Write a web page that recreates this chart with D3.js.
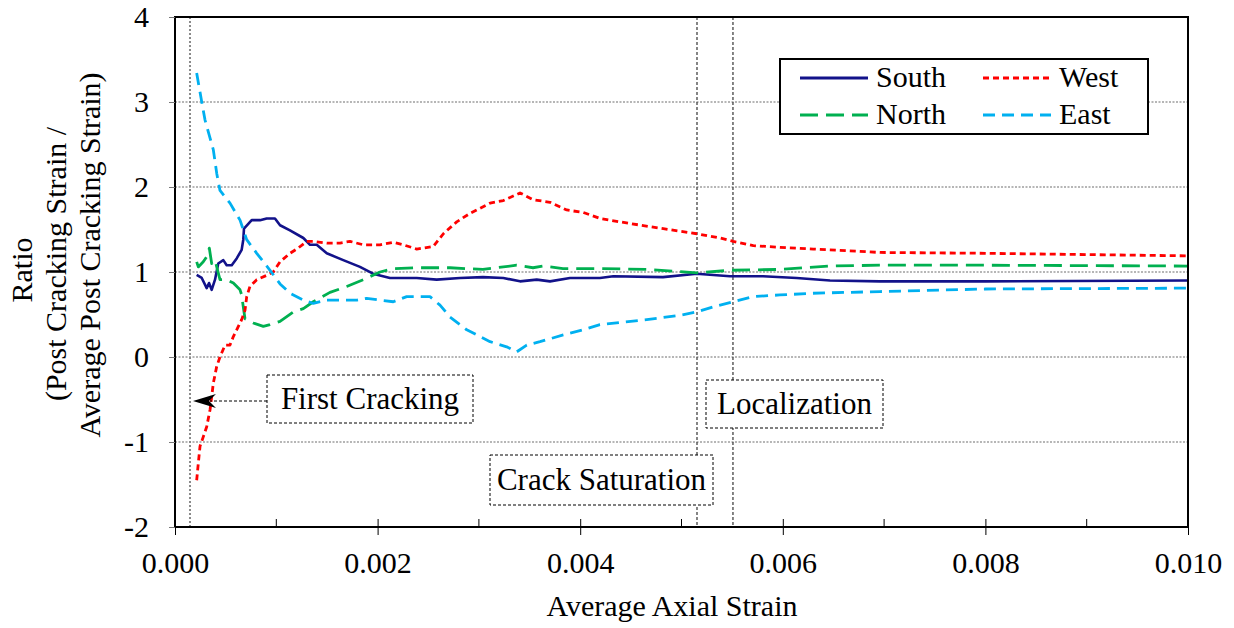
<!DOCTYPE html>
<html>
<head>
<meta charset="utf-8">
<script src="https://cdn.jsdelivr.net/npm/d3@7"></script>
<style>
  body { margin: 0; background: #fff; }
  svg { display: block; }
  text { font-family: "Liberation Serif", "Times New Roman", serif; fill: #000; }
</style>
</head>
<body>
<svg id="chart" width="1234" height="628"></svg>
<script>
// Ratio of each gauge's post-cracking strain to the average post-cracking strain,
// plotted against average axial strain: [strain, ratio]
const southData = [
  [0.000214, 0.965], [0.000264, 0.93], [0.000313, 0.81], [0.000336, 0.87], [0.000362, 0.79],
  [0.000395, 0.91], [0.000427, 1.10], [0.000477, 1.14], [0.000510, 1.08], [0.000560, 1.08],
  [0.000609, 1.16], [0.000658, 1.26], [0.000674, 1.38], [0.000681, 1.51], [0.000757, 1.61],
  [0.000839, 1.61], [0.000905, 1.63], [0.000987, 1.63], [0.001037, 1.55], [0.001135, 1.49],
  [0.001267, 1.40], [0.001333, 1.32], [0.001399, 1.32], [0.001498, 1.22], [0.001661, 1.14],
  [0.001826, 1.06], [0.001955, 0.98], [0.002122, 0.93], [0.002386, 0.93], [0.002583, 0.91],
  [0.002813, 0.93], [0.003040, 0.94], [0.003241, 0.93], [0.003406, 0.89], [0.003571, 0.91],
  [0.003702, 0.89], [0.003899, 0.93], [0.004195, 0.93], [0.004327, 0.95], [0.004817, 0.94],
  [0.005150, 0.98], [0.005479, 0.95], [0.005805, 0.95], [0.006137, 0.93], [0.006466, 0.90],
  [0.006959, 0.89], [0.008000, 0.89], [0.010000, 0.90]
];
const northData = [
  [0.000214, 1.12], [0.000230, 1.06], [0.000279, 1.12], [0.000313, 1.18], [0.000339, 1.28],
  [0.000362, 1.10], [0.000395, 1.14], [0.000412, 1.06], [0.000444, 0.91], [0.000510, 0.91],
  [0.000576, 0.87], [0.000642, 0.79], [0.000658, 0.73], [0.000674, 0.59], [0.000691, 0.45],
  [0.000773, 0.40], [0.000872, 0.36], [0.000938, 0.38], [0.001037, 0.42], [0.001168, 0.53],
  [0.001267, 0.57], [0.001365, 0.65], [0.001530, 0.76], [0.001695, 0.83], [0.001859, 0.91],
  [0.002024, 1.00], [0.002155, 1.04], [0.002386, 1.05], [0.002715, 1.05], [0.003040, 1.03],
  [0.003373, 1.08], [0.003534, 1.05], [0.003633, 1.07], [0.003830, 1.04], [0.004195, 1.04],
  [0.004657, 1.03], [0.005150, 0.99], [0.005479, 1.02], [0.005972, 1.03], [0.006466, 1.07],
  [0.006959, 1.08], [0.008000, 1.08], [0.010000, 1.07]
];
const westData = [
  [0.000214, -1.45], [0.000230, -1.25], [0.000247, -1.05], [0.000279, -0.94], [0.000313, -0.82],
  [0.000346, -0.62], [0.000362, -0.47], [0.000378, -0.31], [0.000412, -0.11], [0.000444, 0.00],
  [0.000494, 0.14], [0.000543, 0.14], [0.000576, 0.24], [0.000609, 0.32], [0.000658, 0.44],
  [0.000691, 0.55], [0.000708, 0.71], [0.000740, 0.83], [0.000807, 0.91], [0.000905, 0.96],
  [0.000970, 1.00], [0.001037, 1.12], [0.001135, 1.22], [0.001214, 1.28], [0.001300, 1.36],
  [0.001365, 1.36], [0.001498, 1.34], [0.001629, 1.34], [0.001728, 1.36], [0.001859, 1.32],
  [0.002024, 1.32], [0.002155, 1.35], [0.002254, 1.32], [0.002386, 1.27], [0.002550, 1.30],
  [0.002649, 1.45], [0.002781, 1.59], [0.002912, 1.69], [0.003110, 1.81], [0.003241, 1.84],
  [0.003406, 1.93], [0.003537, 1.85], [0.003702, 1.82], [0.003867, 1.73], [0.004031, 1.70],
  [0.004195, 1.63], [0.004492, 1.57], [0.004820, 1.51], [0.005150, 1.45], [0.005380, 1.40],
  [0.005511, 1.36], [0.005709, 1.31], [0.005972, 1.29], [0.006301, 1.27], [0.006631, 1.25],
  [0.006959, 1.23], [0.008000, 1.22], [0.010000, 1.19]
];
const eastData = [
  [0.000214, 3.34], [0.000264, 3.00], [0.000296, 2.79], [0.000378, 2.44], [0.000412, 2.16],
  [0.000444, 1.96], [0.000543, 1.81], [0.000642, 1.61], [0.000708, 1.38], [0.000807, 1.22],
  [0.000938, 1.02], [0.001037, 0.86], [0.001135, 0.75], [0.001267, 0.67], [0.001365, 0.63],
  [0.001500, 0.67], [0.001658, 0.67], [0.001797, 0.67], [0.001892, 0.69], [0.002155, 0.65],
  [0.002287, 0.71], [0.002517, 0.71], [0.002616, 0.61], [0.002715, 0.47], [0.002880, 0.32],
  [0.003110, 0.18], [0.003274, 0.12], [0.003373, 0.06], [0.003472, 0.14], [0.003603, 0.18],
  [0.003833, 0.26], [0.004031, 0.32], [0.004195, 0.38], [0.004657, 0.44], [0.004985, 0.49],
  [0.005150, 0.53], [0.005314, 0.59], [0.005511, 0.65], [0.005709, 0.71], [0.005972, 0.73],
  [0.006298, 0.75], [0.006959, 0.77], [0.008000, 0.80], [0.010000, 0.81]
];

const xTicks = [0, 0.002, 0.004, 0.006, 0.008, 0.010];
const xMinorTicks = [0.001, 0.003, 0.005, 0.007, 0.009];
const yTicks = [-2, -1, 0, 1, 2, 3, 4];
const yGridValues = [-1, 0, 1, 2, 3];

// Stage markers (vertical reference lines) at first cracking, crack saturation, localization
const stageLines = [0.000148, 0.005153, 0.005508];

const series = [
  { name: "South", data: southData, color: "#12128a", dash: null },
  { name: "North", data: northData, color: "#00b050", dash: "18,8" },
  { name: "West",  data: westData,  color: "#ff0000", dash: "6,4" },
  { name: "East",  data: eastData,  color: "#00b0f0", dash: "12,7" }
];

const svg = d3.select("#chart");
const plot = { left: 175, right: 1188, top: 17, bottom: 527 };

const x = d3.scaleLinear().domain([0, 0.010]).range([plot.left, plot.right]);
const y = d3.scaleLinear().domain([-2, 4]).range([plot.bottom, plot.top]);

// Horizontal gridlines
svg.append("g").selectAll("line").data(yGridValues).join("line")
  .attr("x1", plot.left).attr("x2", plot.right)
  .attr("y1", d => y(d)).attr("y2", d => y(d))
  .attr("stroke", "#6e6e6e").attr("stroke-width", 1.2).attr("stroke-dasharray", "2,1.5");

// Vertical stage lines
svg.append("g").selectAll("line").data(stageLines).join("line")
  .attr("x1", d => x(d)).attr("x2", d => x(d))
  .attr("y1", plot.top).attr("y2", plot.bottom)
  .attr("stroke", (d, i) => i === 0 ? "#8a8a8a" : "#444")
  .attr("stroke-width", (d, i) => i === 0 ? 2 : 1.3)
  .attr("stroke-dasharray", (d, i) => i === 0 ? "2,2" : "3,2");

// Series lines
const line = d3.line().x(d => x(d[0])).y(d => y(d[1]));
svg.append("g").selectAll("path").data(series).join("path")
  .attr("d", d => line(d.data))
  .attr("fill", "none")
  .attr("stroke", d => d.color)
  .attr("stroke-width", d => d.dash ? 2.8 : 2.6)
  .attr("stroke-dasharray", d => d.dash)
  .attr("stroke-linejoin", "round");

// Plot frame
svg.append("rect")
  .attr("x", plot.left).attr("y", plot.top)
  .attr("width", plot.right - plot.left).attr("height", plot.bottom - plot.top)
  .attr("fill", "none").attr("stroke", "#000").attr("stroke-width", 2);

// Y axis
const yAxis = svg.append("g").attr("transform", `translate(${plot.left},0)`)
  .call(d3.axisLeft(y).tickValues(yTicks).tickSize(6).tickPadding(20).tickFormat(d => String(d)));
yAxis.select(".domain").remove();
yAxis.selectAll(".tick line").attr("stroke", "#777");
yAxis.selectAll("text").attr("font-size", 30).attr("font-family", "Liberation Serif");

// X axis
const xAxis = svg.append("g").attr("transform", `translate(0,${plot.bottom})`)
  .call(d3.axisBottom(x).tickValues(xTicks).tickSize(8).tickPadding(17).tickFormat(d3.format(".3f")));
xAxis.select(".domain").remove();
xAxis.selectAll(".tick line").attr("stroke", "#000").attr("y1", -8);
xAxis.selectAll("text").attr("font-size", 30).attr("font-family", "Liberation Serif");
svg.append("g").selectAll("line").data(xMinorTicks).join("line")
  .attr("x1", d => x(d)).attr("x2", d => x(d))
  .attr("y1", plot.bottom).attr("y2", plot.bottom - 8)
  .attr("stroke", "#000").attr("stroke-width", 1);

// Axis titles
svg.append("text")
  .attr("x", 672).attr("y", 616)
  .attr("text-anchor", "middle").attr("font-size", 30)
  .text("Average Axial Strain");

const yTitle = [
  { text: "Ratio", base: 32, mid: 270 },
  { text: "(Post Cracking Strain /", base: 66, mid: 264 },
  { text: "Average Post Cracking Strain)", base: 100, mid: 255 }
];
svg.append("g").selectAll("text").data(yTitle).join("text")
  .attr("transform", d => `translate(${d.base},${d.mid}) rotate(-90)`)
  .attr("text-anchor", "middle").attr("font-size", 30)
  .text(d => d.text);

// Stage annotations
const notes = [
  { label: "First Cracking",   x0: 267, x1: 473, y0: 375, y1: 423 },
  { label: "Localization",     x0: 706, x1: 883, y0: 380, y1: 428 },
  { label: "Crack Saturation", x0: 490, x1: 713, y0: 455, y1: 505 }
];

// Arrow from the first-cracking note to its marker line
const arrowY = 401;
svg.append("line")
  .attr("x1", 267).attr("x2", 210).attr("y1", arrowY).attr("y2", arrowY)
  .attr("stroke", "#000").attr("stroke-width", 1).attr("stroke-dasharray", "3,2");
const tipX = x(stageLines[0]) + 3;
svg.append("path")
  .attr("d", `M${tipX},${arrowY} L${tipX + 23},${arrowY - 7} L${tipX + 16},${arrowY} L${tipX + 23},${arrowY + 7} Z`)
  .attr("fill", "#000");

const noteG = svg.append("g").selectAll("g").data(notes).join("g");
noteG.append("rect")
  .attr("x", d => d.x0).attr("y", d => d.y0)
  .attr("width", d => d.x1 - d.x0).attr("height", d => d.y1 - d.y0)
  .attr("fill", "#fff").attr("stroke", "#000").attr("stroke-width", 1)
  .attr("stroke-dasharray", "3,2");
noteG.append("text")
  .attr("x", d => (d.x0 + d.x1) / 2).attr("y", d => (d.y0 + d.y1) / 2 + 10)
  .attr("text-anchor", "middle").attr("font-size", 31)
  .text(d => d.label);

// Legend
const legend = svg.append("g");
legend.append("rect")
  .attr("x", 780).attr("y", 59).attr("width", 368).attr("height", 75)
  .attr("fill", "#fff").attr("stroke", "#000").attr("stroke-width", 2);
const legendPos = [
  { sx: 800, ty: 78 }, { sx: 800, ty: 115 }, { sx: 983, ty: 78 }, { sx: 983, ty: 115 }
];
const legendItems = legend.selectAll("g").data(series).join("g")
  .attr("transform", (d, i) => `translate(${legendPos[i].sx},${legendPos[i].ty})`);
legendItems.append("line")
  .attr("x1", 0).attr("x2", 68).attr("y1", 0).attr("y2", 0)
  .attr("stroke", d => d.color).attr("stroke-width", 2.8)
  .attr("stroke-dasharray", d => d.dash);
legendItems.append("text")
  .attr("x", 76).attr("y", 9).attr("font-size", 30)
  .text(d => d.name);
</script>
</body>
</html>
